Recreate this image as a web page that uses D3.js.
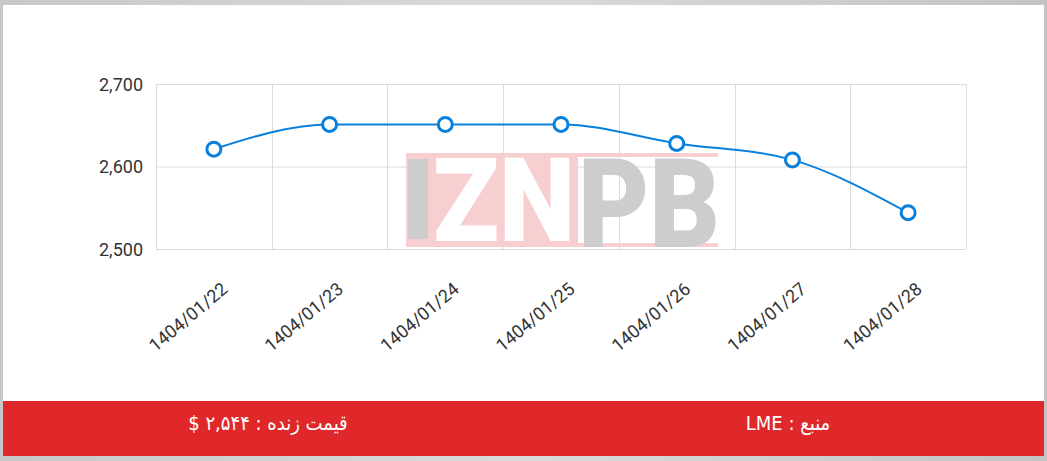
<!DOCTYPE html>
<html>
<head>
<meta charset="utf-8">
<script src="https://cdn.jsdelivr.net/npm/d3@7"></script>
<style>
  body { margin: 0; background: #cfcfcf; }
  svg { display: block; }
</style>
</head>
<body>
<svg id="chart" width="1047" height="461"></svg>
<script>
// data
const dates = ["1404/01/22", "1404/01/23", "1404/01/24", "1404/01/25", "1404/01/26", "1404/01/27", "1404/01/28"];
const prices = [2621, 2651, 2651, 2651, 2628, 2608, 2544];
const yTicks = [2500, 2600, 2700];
const livePrice = "قیمت زنده : ۲,۵۴۴ $";
const source = "منبع : LME";

var svg = d3.select("#chart"),
  margin = {top: 84, left: 156, bottom: 212, right: 81},
  width = +svg.attr("width") - margin.left - margin.right,
  height = +svg.attr("height") - margin.top - margin.bottom;

var blue = "#0a80dd";

// frame
var defs = svg.append("defs");
var grad = defs.append("linearGradient").attr("id", "frame");
grad.append("stop").attr("offset", "0%").attr("stop-color", "#c8c8c8");
grad.append("stop").attr("offset", "50%").attr("stop-color", "#dadada");
grad.append("stop").attr("offset", "100%").attr("stop-color", "#c4c4c4");
svg.append("rect").attr("width", 1047).attr("height", 461).attr("fill", "url(#frame)");
svg.append("rect").attr("x", 3).attr("y", 5).attr("width", 1041).attr("height", 451).attr("fill", "#fff");

var x = d3.scaleBand().domain(dates).range([0, width]);
var y = d3.scaleLinear().domain([2500, 2700]).range([height, 0]);

var g = svg.append("g").attr("transform", "translate(" + margin.left + "," + margin.top + ")");

// watermark
var wm = svg.append("g").attr("transform", "translate(406,153)");
wm.append("rect").attr("x", 0).attr("y", 0).attr("width", 312).attr("height", 4).attr("fill", "#f7cfd0");
wm.append("rect").attr("x", 0).attr("y", 90).attr("width", 312).attr("height", 4).attr("fill", "#f7cfd0");
wm.append("rect").attr("x", 0).attr("y", 0).attr("width", 172).attr("height", 94).attr("fill", "#f7cfd0");
wm.append("rect").attr("x", 2).attr("y", 6).attr("width", 20).attr("height", 80).attr("fill", "#cdcdcd");
wm.append("text").attr("x", 27).attr("y", 88).attr("textLength", 142).attr("lengthAdjust", "spacingAndGlyphs")
  .attr("font-family", "Roboto, 'Liberation Sans', sans-serif").attr("font-weight", 900).attr("font-size", 116)
  .attr("fill", "#fff").text("ZN");
wm.append("text").attr("x", 172).attr("y", 94).attr("textLength", 142).attr("lengthAdjust", "spacingAndGlyphs")
  .attr("font-family", "Roboto, 'Liberation Sans', sans-serif").attr("font-weight", 900).attr("font-size", 124)
  .attr("fill", "#cdcdcd").text("PB");

// grid
g.selectAll(".hgrid").data(yTicks).enter().append("line")
  .attr("x1", 0).attr("x2", width)
  .attr("y1", d => y(d) + 0.5).attr("y2", d => y(d) + 0.5)
  .attr("stroke", "#dcdcdc");
g.selectAll(".vgrid").data(d3.range(dates.length + 1)).enter().append("line")
  .attr("x1", d => Math.round(d * x.step()) + 0.5).attr("x2", d => Math.round(d * x.step()) + 0.5)
  .attr("y1", 0).attr("y2", height)
  .attr("stroke", "#dcdcdc");

// y labels
g.selectAll(".ylab").data(yTicks).enter().append("text")
  .attr("x", -13).attr("y", d => y(d))
  .attr("text-anchor", "end").attr("dominant-baseline", "central")
  .style("font", "18px Roboto, sans-serif").attr("fill", "#333")
  .text(d => d3.format(",")(d));

// x labels
g.selectAll(".xlab").data(dates).enter().append("text")
  .attr("transform", d => "translate(" + (x(d) + x.bandwidth() / 2 + 15) + "," + (height + 42) + ") rotate(-40)")
  .attr("text-anchor", "end")
  .style("font", "18px Roboto, sans-serif").attr("fill", "#333")
  .text(d => d);

// line
var line = d3.line()
  .x((d, i) => x(dates[i]) + x.bandwidth() / 2)
  .y(d => y(d))
  .curve(d3.curveMonotoneX);

g.append("path").datum(prices)
  .attr("fill", "none").attr("stroke", blue).attr("stroke-width", 2)
  .attr("d", line);

g.selectAll(".pt").data(prices).enter().append("circle")
  .attr("cx", (d, i) => x(dates[i]) + x.bandwidth() / 2)
  .attr("cy", d => y(d))
  .attr("r", 7)
  .attr("fill", "#fff").attr("stroke", blue).attr("stroke-width", 3);

// footer bar
svg.append("rect").attr("x", 3).attr("y", 401).attr("width", 1041).attr("height", 55).attr("fill", "#e0282a");
svg.append("text").attr("x", 268).attr("y", 423)
  .attr("text-anchor", "middle").attr("dominant-baseline", "central").attr("direction", "rtl")
  .style("font", "20px 'DejaVu Sans Condensed', 'DejaVu Sans', sans-serif").attr("fill", "#fff")
  .text(livePrice);
svg.append("text").attr("x", 788).attr("y", 423)
  .attr("text-anchor", "middle").attr("dominant-baseline", "central").attr("direction", "rtl")
  .style("font", "20px 'DejaVu Sans Condensed', 'DejaVu Sans', sans-serif").attr("fill", "#fff")
  .text(source);
</script>
</body>
</html>
